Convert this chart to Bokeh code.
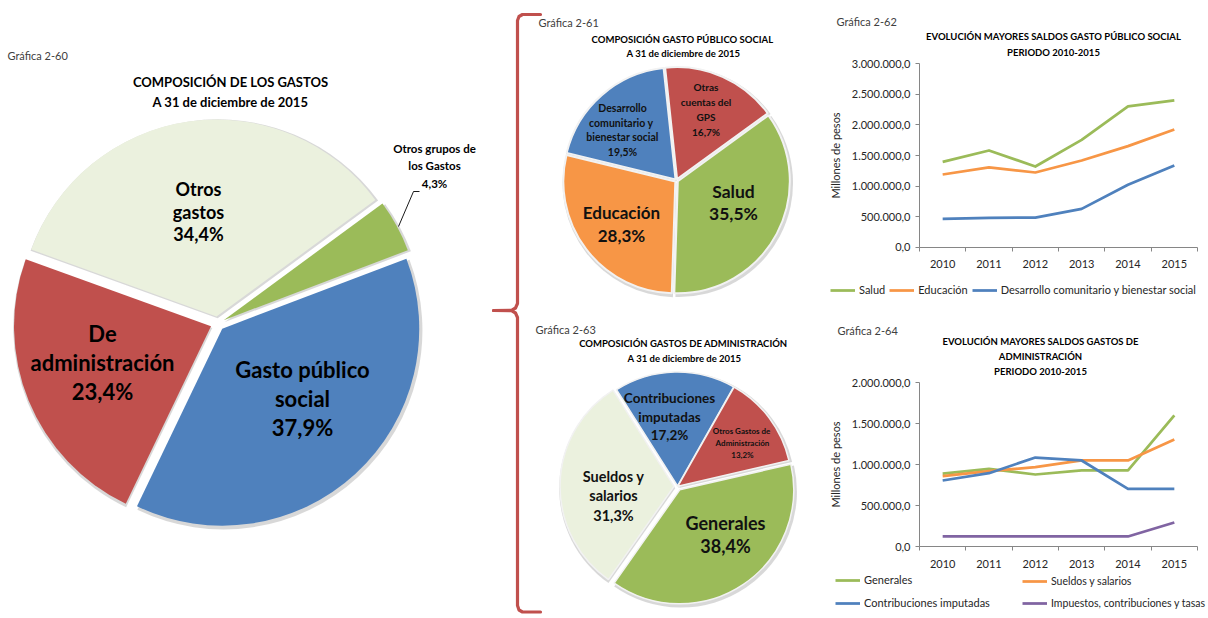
import math
from bokeh.plotting import figure
from bokeh.models import (ColumnDataSource, Label, Legend, LegendItem, Range1d,
                          FixedTicker)
from bokeh.layouts import row, column
from bokeh.embed import file_html
from bokeh.resources import INLINE
from bokeh.core.properties import value

FONT = "Lato"

# ---------------- data ----------------
g60_labels = ["Gasto público\nsocial", "De\nadministración", "Otros\ngastos", "Otros grupos de\nlos Gastos"]
g60_values = [37.9, 23.4, 34.4, 4.3]
g60_colors = ["#4F81BD", "#C0504D", "#EBF1DE", "#9BBB59"]

g61_labels = ["Salud", "Educación", "Desarrollo\ncomunitario  y\nbienestar social", "Otras\ncuentas del\nGPS"]
g61_values = [35.5, 28.3, 19.5, 16.7]
g61_colors = ["#9BBB59", "#F79646", "#4F81BD", "#C0504D"]

g63_labels = ["Generales", "Sueldos y\nsalarios", "Contribuciones\nimputadas", "Otros  Gastos de\nAdministración"]
g63_values = [38.4, 31.3, 17.2, 13.2]
g63_colors = ["#9BBB59", "#EBF1DE", "#4F81BD", "#C0504D"]

years = ["2010", "2011", "2012", "2013", "2014", "2015"]

salud = [1396000, 1582000, 1320000, 1756000, 2302000, 2400000]
educacion = [1189000, 1304000, 1222000, 1418000, 1653000, 1925000]
desarrollo = [464000, 480000, 485000, 627000, 1020000, 1336000]

generales = [890000, 947000, 878000, 927000, 927000, 1598000]
sueldos = [858000, 919000, 967000, 1049000, 1049000, 1305000]
contribuciones = [805000, 894000, 1085000, 1049000, 703000, 703000]
impuestos = [122000, 122000, 122000, 122000, 122000, 293000]

# ---------------- helpers ----------------
H = 618

def X(sx):
    return sx

def Y(sy):
    return H - sy

def pct(v):
    return f"{v:.1f}".replace(".", ",") + "%"

def fmt_num(v):
    s = f"{v:,.1f}"
    return s.replace(",", "X").replace(".", ",").replace("X", ".")

def draw_pie(p, cx, cy, r, values, colors, start_deg, explode, line_color, line_width):
    total = float(sum(values))
    cum = 0.0
    xs, ys, sa, ea = [], [], [], []
    for v, e in zip(values, explode):
        a0 = math.radians(start_deg) - cum / total * 2 * math.pi
        a1 = a0 - v / total * 2 * math.pi
        mid = (a0 + a1) / 2
        xs.append(cx + e * math.cos(mid))
        ys.append(cy + e * math.sin(mid))
        sa.append(a0)
        ea.append(a1)
        cum += v
    shadow = ColumnDataSource(dict(x=[x + 1.2 for x in xs], y=[y - 1.8 for y in ys], start=sa, end=ea))
    p.wedge(x="x", y="y", radius=r + 2, start_angle="start", end_angle="end",
            direction="clock", fill_color="#b8b8b8", fill_alpha=0.55, line_color=None, source=shadow)
    src = ColumnDataSource(dict(x=xs, y=ys, start=sa, end=ea, color=colors))
    p.wedge(x="x", y="y", radius=r, start_angle="start", end_angle="end",
            direction="clock", fill_color="color", line_color=line_color,
            line_width=line_width, source=src)

def put_text(p, cx_s, cy_s, lines, size, spacing, color="#000000", bold=True, align="center"):
    n = len(lines)
    xs = [X(cx_s)] * n
    ys = [Y(cy_s) + ((n - 1) / 2 - i) * spacing for i in range(n)]
    p.text(x=xs, y=ys, text=lines, text_font=value(FONT), text_font_size=f"{size}px",
           text_font_style="bold" if bold else "normal", text_align=align,
           text_baseline="middle", text_color=color)

# ---------------- figure A : pies ----------------
WA = 810
pA = figure(width=WA, height=H, x_range=Range1d(0, WA), y_range=Range1d(0, H),
            x_axis_type=None, y_axis_type=None, output_backend="svg",
            toolbar_location=None, min_border=0)
pA.grid.visible = False
pA.outline_line_color = None

# Gráfica 2-60
put_text(pA, 7, 55, ["Gráfica 2-60"], 11, 12, color="#404040", bold=False, align="left")
put_text(pA, 230, 91, ["COMPOSICIÓN DE LOS GASTOS", "A 31 de diciembre de 2015"], 13, 20)
draw_pie(pA, X(217), Y(323), 197, g60_values, g60_colors, 20.8, [7, 7, 7, 7], None, 0)
g60_pos = [(302, 398, 22, 29), (102, 362, 22, 29), (198, 211, 18, 22.5), (434, 165, 11.5, 17.5)]
for lab, v, (cx, cy, fs, sp) in zip(g60_labels, g60_values, g60_pos):
    put_text(pA, cx, cy, lab.split("\n") + [pct(v)], fs, sp)
pA.line(x=[X(398), X(413), X(419)], y=[Y(226), Y(191), Y(191)], line_color="#000000", line_width=0.9)

# bracket
br_up = [(540, 14), (522, 14), (518.5, 16), (517, 20), (517, 303), (515, 307.5), (511, 309.8), (493, 310)]
br_dn = [(493, 310), (511, 310.2), (515, 312.5), (517, 317), (517, 605), (518.5, 609.5), (522, 611.5), (540, 611.5)]
pA.multi_line(xs=[[X(a) for a, b in br_up], [X(a) for a, b in br_dn]],
              ys=[[Y(b) for a, b in br_up], [Y(b) for a, b in br_dn]],
              line_color="#C0504D", line_width=3.2, line_join="round", line_cap="round")

# Gráfica 2-61
put_text(pA, 538, 22, ["Gráfica 2-61"], 11, 12, color="#404040", bold=False, align="left")
put_text(pA, 683, 46, ["COMPOSICIÓN  GASTO PÚBLICO SOCIAL", "A 31 de diciembre de 2015"], 9.5, 14.5)
draw_pie(pA, X(676), Y(180), 112, g61_values, g61_colors, 36, [1.5, 1.5, 1.5, 1.5], "#f2f2f2", 2)
g61_pos = [(733, 202, 17.5, 22.5), (621, 223.5, 17, 23), (622, 129.5, 10.5, 14.5), (705.5, 109, 10, 14.8)]
for lab, v, (cx, cy, fs, sp) in zip(g61_labels, g61_values, g61_pos):
    put_text(pA, cx, cy, lab.split("\n") + [pct(v)], fs, sp, color="#111111")

# Gráfica 2-63
put_text(pA, 535, 329, ["Gráfica 2-63"], 11, 12, color="#404040", bold=False, align="left")
put_text(pA, 684, 350.5, ["COMPOSICIÓN  GASTOS DE ADMINISTRACIÓN", "A 31 de diciembre de 2015"], 9.5, 15)
draw_pie(pA, X(677), Y(486), 114, g63_values, g63_colors, 13, [4, 3.5, 0.5, 0.5], "#f2f2f2", 1.5)
g63_pos = [(725, 534, 18, 22.5), (613, 495, 14.5, 19.5), (669, 416, 13.5, 18.5), (742, 442, 8, 12)]
for lab, v, (cx, cy, fs, sp) in zip(g63_labels, g63_values, g63_pos):
    put_text(pA, cx, cy, lab.split("\n") + [pct(v)], fs, sp, color="#111111")

# ---------------- line charts ----------------
xs = [i + 0.5 for i in range(len(years))]
WL, HL = 398, 309
X0L = 810          # screen x of line-chart canvases
PL, PR = 919, 1197  # plot-area left / right (screen px)

def line_chart(ymax, step, y0, plot_top, plot_bottom):
    kx = (PR - PL) / len(years)
    ky = (plot_bottom - plot_top) / ymax
    xr = Range1d((X0L - PL) / kx, (X0L + WL - PL) / kx)
    yr = Range1d(-(y0 + HL - plot_bottom) / ky, (plot_bottom - y0) / ky)
    p = figure(width=WL, height=HL, x_range=xr, y_range=yr,
               output_backend="svg", toolbar_location=None, min_border=0)
    p.grid.visible = False
    p.outline_line_color = None
    p.xaxis.fixed_location = 0
    p.yaxis.fixed_location = 0
    p.xaxis.bounds = (0, len(years))
    p.yaxis.bounds = (0, ymax)
    p.xaxis.ticker = FixedTicker(ticks=xs, minor_ticks=list(range(len(years) + 1)))
    p.xaxis.major_label_overrides = {x: y for x, y in zip(xs, years)}
    p.xaxis.major_tick_line_color = None
    p.xaxis.major_tick_out = 0
    p.xaxis.minor_tick_out = 4
    p.xaxis.minor_tick_in = 0
    p.xaxis.minor_tick_line_color = "#868686"
    p.xaxis.major_label_standoff = 9
    ticks = list(range(0, ymax + 1, step))
    p.yaxis.ticker = FixedTicker(ticks=ticks)
    p.yaxis.major_label_overrides = {t: fmt_num(t) for t in ticks}
    p.yaxis.major_tick_out = 4
    p.yaxis.major_tick_in = 0
    p.yaxis.major_tick_line_color = "#868686"
    p.yaxis.minor_tick_line_color = None
    p.yaxis.major_label_standoff = 5
    p.yaxis.axis_label = "Millones de pesos"
    p.yaxis.axis_label_text_font = FONT
    p.yaxis.axis_label_text_font_style = "normal"
    p.yaxis.axis_label_text_font_size = "11px"
    p.yaxis.axis_label_text_color = "#262626"
    p.yaxis.axis_label_standoff = 7
    for ax in (p.xaxis, p.yaxis):
        ax.axis_line_color = "#868686"
        ax.major_label_text_font = FONT
        ax.major_label_text_font_size = "11px"
        ax.major_label_text_color = "#262626"
    return p

def flabel(p, y0, sx, sy, text, size, bold=True, align="center", color="#000000"):
    p.add_layout(Label(x=sx - X0L, y=y0 + HL - sy, x_units="screen", y_units="screen", text=text,
                       text_font=FONT, text_font_size=f"{size}px",
                       text_font_style="bold" if bold else "normal",
                       text_align=align, text_baseline="middle", text_color=color))

def make_legend(items, y0, sx, sy_center, orientation="vertical", spacing=6, size=11):
    return Legend(items=items, location=(sx - X0L, y0 + HL - sy_center - 6),
                  orientation=orientation, padding=0, margin=0,
                  spacing=spacing, label_standoff=4, glyph_width=25, glyph_height=12,
                  label_height=12, label_text_font=FONT, label_text_font_size=f"{size}px",
                  label_text_color="#262626", border_line_color=None, background_fill_alpha=0)

# Gráfica 2-62
Y0B = 0
pB = line_chart(3000000, 500000, Y0B, 63.3, 246.7)
srcB = ColumnDataSource(dict(x=xs, salud=salud, educacion=educacion, desarrollo=desarrollo))
rB = []
for col, c in [("salud", "#9BBB59"), ("educacion", "#F79646"), ("desarrollo", "#4F81BD")]:
    rB.append(pB.line(x="x", y=col, source=srcB, line_color=c, line_width=2.75, line_join="round"))
flabel(pB, Y0B, 836, 20.5, "Gráfica 2-62", 11, bold=False, align="left", color="#404040")
flabel(pB, Y0B, 1053, 36, "EVOLUCIÓN MAYORES SALDOS GASTO PÚBLICO SOCIAL", 9.5)
flabel(pB, Y0B, 1053, 51.5, "PERIODO 2010-2015", 9.5)
legB = make_legend([LegendItem(label="Salud", renderers=[rB[0]]),
                    LegendItem(label="Educación", renderers=[rB[1]]),
                    LegendItem(label="Desarrollo comunitario y bienestar social", renderers=[rB[2]])],
                   Y0B, 830, 290, orientation="horizontal", spacing=4)
pB.add_layout(legB)

# Gráfica 2-64
Y0C = 309
pC = line_chart(2000000, 500000, Y0C, 382, 546)
srcC = ColumnDataSource(dict(x=xs, generales=generales, sueldos=sueldos,
                             contribuciones=contribuciones, impuestos=impuestos))
rC = []
for col, c in [("generales", "#9BBB59"), ("sueldos", "#F79646"),
               ("contribuciones", "#4F81BD"), ("impuestos", "#8064A2")]:
    rC.append(pC.line(x="x", y=col, source=srcC, line_color=c, line_width=2.75, line_join="round"))
flabel(pC, Y0C, 837, 330, "Gráfica 2-64", 11, bold=False, align="left", color="#404040")
flabel(pC, Y0C, 1040, 341, "EVOLUCIÓN MAYORES SALDOS GASTOS DE", 9.5)
flabel(pC, Y0C, 1040, 355.5, "ADMINISTRACIÓN", 9.5)
flabel(pC, Y0C, 1040, 370.5, "PERIODO 2010-2015", 9.5)
legC1 = make_legend([LegendItem(label="Generales", renderers=[rC[0]]),
                     LegendItem(label="Contribuciones imputadas", renderers=[rC[2]])],
                    Y0C, 835, 603, spacing=10)
legC2 = make_legend([LegendItem(label="Sueldos y salarios", renderers=[rC[1]]),
                     LegendItem(label="Impuestos, contribuciones y tasas", renderers=[rC[3]])],
                    Y0C, 1022, 603, spacing=10, size=10.5)
pC.add_layout(legC1)
pC.add_layout(legC2)

layout = row(pA, column(pB, pC))
open("out.html", "w").write(file_html(layout, INLINE))
